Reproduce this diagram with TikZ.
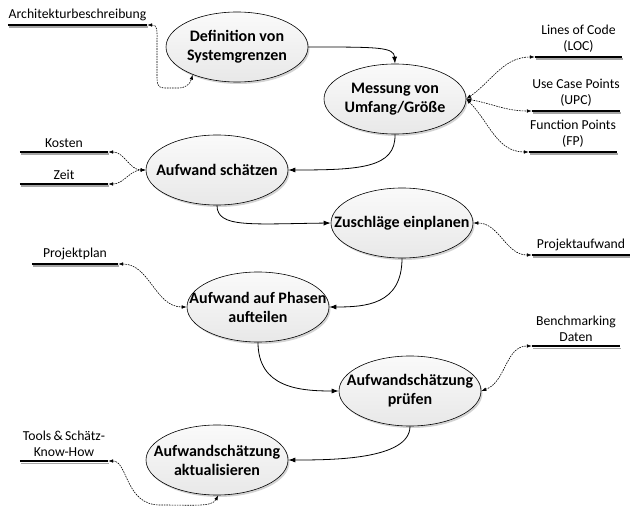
\documentclass[tikz,border=0pt]{standalone}
\usepackage{fontspec}
\setmainfont{Carlito}
\usetikzlibrary{shapes.geometric,arrows.meta,shadows}
\begin{document}
\begin{tikzpicture}[x=1pt,y=-1pt,
  proc/.style={ellipse, draw=black, line width=0.6pt, minimum width=142pt, minimum height=70pt,
     inner sep=0pt, top color=gray!4, bottom color=gray!18,
     drop shadow={shadow xshift=1.5pt, shadow yshift=-2pt, opacity=0.35, fill=gray}},
  proctext/.style={inner sep=0pt, align=center, font=\fontsize{16}{19}\selectfont\bfseries},
  storeanchor/.style={inner sep=0pt, minimum height=0pt, draw=none},
  storelbl/.style={anchor=south, inner sep=0pt, align=center, font=\fontsize{13.7}{16}\selectfont},
  flow/.style={line width=0.8pt, -{Latex[length=7pt,width=5pt]}},
  assoc/.style={line width=0.6pt, dash pattern=on 1.6pt off 1pt,
     {Latex[length=5pt,width=3.6pt]}-{Latex[length=5pt,width=3.6pt]}},
]
\useasboundingbox (0,0) rectangle (630,508);

% processes
\node[proc] (def) at (237,47) {};
\node[proctext] (deft) at (def.center) {Definition von\\Systemgrenzen};
\node[proc] (mes) at (395,99) {};
\node[proctext] (mest) at (mes.center) {Messung von\\Umfang/Größe};
\node[proc] (sch) at (217,170) {};
\node[proctext] (scht) at (sch.center) {Aufwand schätzen};
\node[proc] (zus) at (402,223) {};
\node[proctext] (zust) at (zus.center) {Zuschläge einplanen};
\node[proc] (pha) at (258,307) {};
\node[proctext] (phat) at (pha.center) {Aufwand auf Phasen\\aufteilen};
\node[proc] (pru) at (410,391) {};
\node[proctext] (prut) at (pru.center) {Aufwandschätzung\\prüfen};
\node[proc] (akt) at (217,460) {};
\node[proctext] (aktt) at (akt.center) {Aufwandschätzung\\aktualisieren};

% data stores: name, center x, y, width
\newcommand{\mystore}[5]{%
  \node[storeanchor, minimum width=#4pt] (#1) at (#2,#3) {};
  \draw[gray!70, line width=1.4pt] ([xshift=1pt,yshift=-2.2pt]#1.west) -- ([xshift=1pt,yshift=-2.2pt]#1.east);
  \draw[black, line width=2.6pt] (#1.west) -- (#1.east);
  \node[storelbl] (#1lbl) at ([yshift=4pt]#1.north) {#5};
}
\mystore{arch}{77.5}{25}{139}{Architekturbeschreibung}
\mystore{loc}{578.5}{57}{87}{Lines of Code\\(LOC)}
\mystore{upc}{576}{111}{88}{Use Case Points\\(UPC)}
\mystore{fp}{573}{152}{88}{Function Points\\(FP)}
\mystore{kos}{64}{152}{88}{Kosten}
\mystore{zeit}{64}{184}{88}{Zeit}
\mystore{plan}{75}{264}{86}{Projektplan}
\mystore{paw}{581}{255}{98}{Projektaufwand}
\mystore{ben}{576}{346}{88}{Benchmarking\\Daten}
\mystore{tool}{64}{461}{88}{Tools\,\&\,Schätz-\\Know-How}

% process flow
\draw[flow] (def.east) .. controls (378,47) and (394,47) .. (mes.north);
\draw[flow] (mes.south) .. controls (396,168) and (360,170) .. (sch.east);
\draw[flow] (sch.south) .. controls (217,228) and (250,224) .. (zus.west);
\draw[flow] (zus.south) .. controls (402,305) and (365,307) .. (pha.east);
\draw[flow] (pha.south) .. controls (258,388) and (300,391) .. (pru.west);
\draw[flow] (pru.south) .. controls (410,460) and (330,460) .. (akt.east);

% associations
\draw[assoc] (arch.east) .. controls (158,25) and (157,30) .. (157,45)
   -- (157,78) .. controls (157,88) and (160,88) .. (168,88)
   -- (178,88) .. controls (186,88) and (190,84) .. (def.212);
\draw[assoc] (mes.east) to[out=35,in=180] (loc.west);
\draw[assoc] (mes.east) to[out=-10,in=180] (upc.west);
\draw[assoc] (mes.east) to[out=-45,in=180] (fp.west);
\draw[assoc] (kos.east) to[out=0,in=180] (sch.west);
\draw[assoc] (zeit.east) to[out=0,in=180] (sch.west);
\draw[assoc] (zus.east) to[out=0,in=180] (paw.west);
\draw[assoc] (plan.east) to[out=0,in=180] (pha.west);
\draw[assoc] (pru.east) to[out=20,in=180] (ben.west);
\draw[assoc] (tool.east) .. controls (128,461) and (125,505) .. (160,505)
   .. controls (195,505) and (212,507) .. (akt.272);
\end{tikzpicture}
\end{document}
